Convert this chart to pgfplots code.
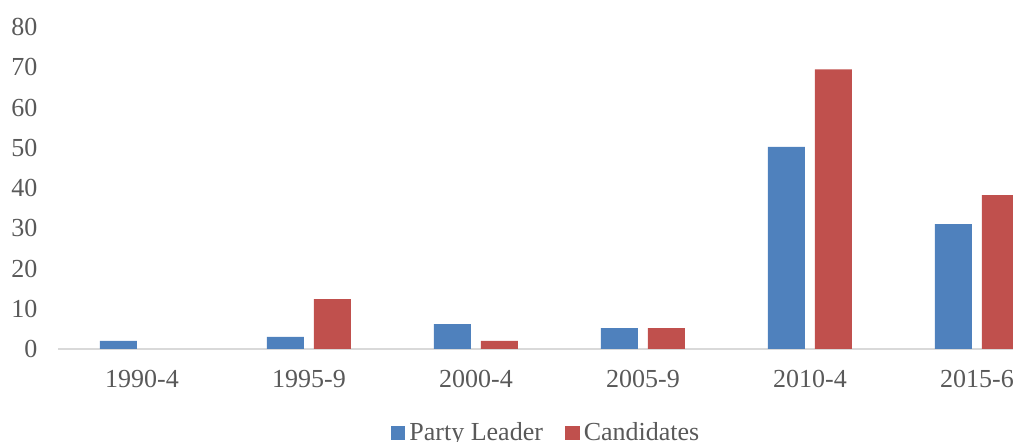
\documentclass[border=0pt]{standalone}
\usepackage{fontspec}
\setmainfont{Liberation Serif}
\usepackage{pgfplots}
\pgfplotsset{compat=1.18}
\definecolor{barblue}{HTML}{4F81BD}
\definecolor{barred}{HTML}{C0504D}
\definecolor{txtgray}{HTML}{595959}
\definecolor{axgray}{HTML}{D9D9D9}

\begin{document}
\begin{tikzpicture}
  % page is cropped like the reference
  \useasboundingbox (-29.25pt,-46.5pt) rectangle (477.25pt,174.5pt);
  \begin{axis}[
    at={(0,0)}, anchor=south west,
    scale only axis, width=501pt, height=161pt,
    xmin=-0.5, xmax=5.5, ymin=0, ymax=80,
    ybar=5pt, bar width=18.5pt,
    xtick={0,1,2,3,4,5},
    xticklabels={1990-4,1995-9,2000-4,2005-9,2010-4,2015-6},
    ytick={0,10,...,80},
    major tick length=0pt,
    axis x line*=bottom, axis y line*=left,
    x axis line style={draw=axgray, line width=0.8pt, -},
    y axis line style={draw=none},
    tick label style={font=\fontsize{13pt}{15pt}\selectfont, text=txtgray},
    /pgf/number format/assume math mode=true,
    xticklabel style={yshift=-7pt},
    yticklabel style={xshift=-7pt},
    legend style={at={(0.4875,-0.261)}, anchor=center, draw=none, fill=none,
      legend columns=2, font=\fontsize{13pt}{15pt}\selectfont, text=txtgray,
      /tikz/every even column/.append style={column sep=9pt},
      /tikz/inner xsep=0.5pt},
    legend image code/.code={\fill[#1] (0pt,-3.6pt) rectangle (7.4pt,3.6pt);},
  ]
    \addplot[fill=barblue, draw=none] coordinates {(0,2) (1,3) (2,6.2) (3,5.2) (4,50.2) (5,31)};
    % 1990-4 value is 0 and draws no bar
    \addplot[fill=barred, draw=none] coordinates {(1,12.4) (2,2) (3,5.2) (4,69.5) (5,38.2)};
    \legend{Party Leader, Candidates}
  \end{axis}
\end{tikzpicture}
\end{document}
